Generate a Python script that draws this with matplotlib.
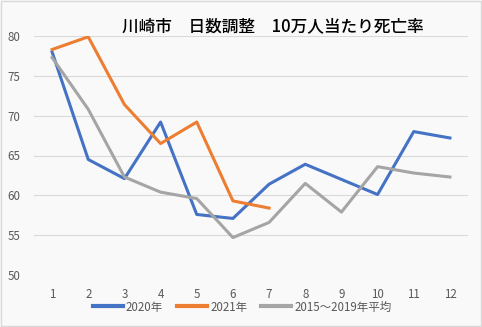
import numpy as np
import matplotlib.pyplot as plt
from matplotlib.patches import Rectangle

plt.rcParams['font.family'] = ['Noto Sans CJK JP', 'DejaVu Sans']

months = [str(m) for m in range(1, 13)]
rate_2020 = [78.0, 64.5, 62.1, 69.2, 57.6, 57.1, 61.4, 63.9, 62.0, 60.1, 68.0, 67.2]
rate_2021 = [78.3, 79.9, 71.4, 66.5, 69.2, 59.3, 58.4]
rate_avg = [77.3, 70.8, 62.3, 60.4, 59.6, 54.7, 56.6, 61.5, 57.9, 63.6, 62.8, 62.3]
yticks = [50, 55, 60, 65, 70, 75, 80]

bg = '#f9f9f9'
fig = plt.figure(figsize=(4.82, 3.27), dpi=100, facecolor=bg)
fig.patches.append(Rectangle((0.002, 0.003), 0.995, 0.993, transform=fig.transFigure,
                             fill=False, edgecolor='#d9d9d9', linewidth=1))
# axes box in pixels: x 34..468, y 36..275
ax = fig.add_axes([34 / 482, 1 - 275 / 327, 434 / 482, 239 / 327])
ax.set_facecolor(bg)

x = np.arange(len(months))
ax.plot(x, rate_2020, color='#4472c4', lw=2.2, label='2020年')
ax.plot(x[:len(rate_2021)], rate_2021, color='#ed7d31', lw=2.2, label='2021年')
ax.plot(x, rate_avg, color='#a5a5a5', lw=2.2, label='2015～2019年平均')

ax.set_xlim(-0.5, 11.5)
ax.set_ylim(50, 80)
ax.set_yticks(yticks)
ax.set_xticks(x)
ax.set_xticklabels(months)
ax.yaxis.grid(True, color='#d9d9d9', lw=0.8)
ax.set_axisbelow(True)
for s in ax.spines.values():
    s.set_visible(False)
ax.tick_params(length=0, labelsize=8.3, labelcolor='#595959')
ax.tick_params(axis='x', pad=9)
ax.tick_params(axis='y', pad=10)

fig.text(273 / 482, 1 - 26 / 327, '川崎市　日数調整　10万人当たり死亡率',
         ha='center', va='center', fontsize=12, fontweight='medium', color='black')

leg = ax.legend(loc='center', bbox_to_anchor=(0.48, (275 - 307) / 239), ncol=3, frameon=False,
                fontsize=8.3, labelcolor='#595959', handlelength=2.6, columnspacing=1.2,
                handletextpad=0.3)
for h in leg.legend_handles:
    h.set_linewidth(3)

fig.savefig('out.png', dpi=100, facecolor=bg)
